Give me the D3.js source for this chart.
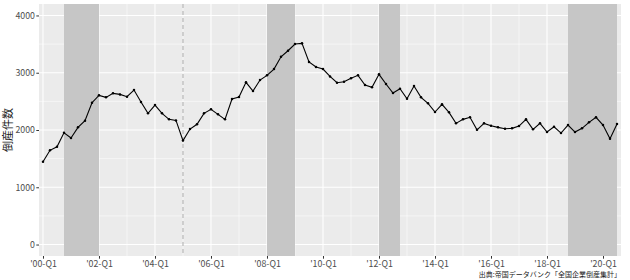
<!DOCTYPE html>
<html><head><meta charset="utf-8">
<script src="https://cdn.jsdelivr.net/npm/d3@7"></script>
<style>
html,body{margin:0;padding:0;background:#fff;}
svg{display:block;font-family:"Noto Sans CJK JP","Noto Sans",sans-serif;}
</style></head>
<body><svg id="c" width="630" height="280"></svg>
<script>
// quarterly bankruptcy counts, 2000-Q1 .. 2020-Q3
const startYear = 2000;
const counts = [
 1446,1645,1708,1952,1860,2046,2162,2476,2605,2570,2640,2622,2581,2698,2488,2291,
 2436,2291,2186,2168,1815,2017,2099,2291,2361,2273,2186,2541,2576,2832,2680,2872,
 2954,3064,3279,3384,3501,3513,3187,3099,3064,2935,2826,2843,2902,2954,2785,2745,
 2972,2803,2645,2721,2546,2768,2570,2465,2314,2448,2308,2116,2186,2221,2003,2116,
 2075,2046,2022,2029,2069,2186,2011,2116,1964,2057,1947,2087,1964,2029,2134,2221,
 2087,1848,2104
];
const xTickIdx = [0,8,16,24,32,40,48,56,64,72,80];
const xTickLabels = ["'00-Q1","'02-Q1","'04-Q1","'06-Q1","'08-Q1","'10-Q1","'12-Q1","'14-Q1","'16-Q1","'18-Q1","'20-Q1"];
const xMinorIdx = [4,12,20,28,36,44,52,60,68,76];
const yTicks = [0,1000,2000,3000,4000];
const yMinor = [500,1500,2500,3500];
const shadeStart = [3,32,48,75];
const shadeEnd = [8,36,51,82];
const markerIdx = [20];
const yTitle = "倒産件数";
const caption = "出典:帝国データバンク「全国企業倒産集計」";

const svg = d3.select("#c");
const L=39, R=621, T=4, B=256;
const x = d3.scaleLinear().domain([-0.57, counts.length-1+0.57]).range([L,R]);
const y = d3.scaleLinear().domain([-200,4200]).range([B,T]);

svg.append("rect").attr("x",L).attr("y",T).attr("width",R-L).attr("height",B-T).attr("fill","#ebebeb");
const g = svg.append("g");
g.selectAll(".ymin").data(yMinor).join("line").attr("x1",L).attr("x2",R)
 .attr("y1",d=>y(d)).attr("y2",d=>y(d)).attr("stroke","#fff").attr("stroke-width",0.55);
g.selectAll(".xmin").data(xMinorIdx).join("line").attr("y1",T).attr("y2",B)
 .attr("x1",d=>x(d)).attr("x2",d=>x(d)).attr("stroke","#fff").attr("stroke-width",0.55);
g.selectAll(".ymaj").data(yTicks).join("line").attr("x1",L).attr("x2",R)
 .attr("y1",d=>y(d)).attr("y2",d=>y(d)).attr("stroke","#fff").attr("stroke-width",1.07);
g.selectAll(".xmaj").data(xTickIdx).join("line").attr("y1",T).attr("y2",B)
 .attr("x1",d=>x(d)).attr("x2",d=>x(d)).attr("stroke","#fff").attr("stroke-width",1.07);

// shaded periods
g.selectAll(".shade").data(shadeStart).join("rect")
 .attr("x",(d,i)=>x(d)).attr("width",(d,i)=>x(shadeEnd[i])-x(d))
 .attr("y",T).attr("height",B-T).attr("fill","#c6c6c6");

// dashed marker
g.selectAll(".mk").data(markerIdx).join("line").attr("x1",d=>x(d)).attr("x2",d=>x(d))
 .attr("y1",T).attr("y2",B).attr("stroke","#ababab").attr("stroke-width",1).attr("stroke-dasharray","4,3");

// line + points
const line = d3.line().x((d,i)=>x(i)).y(d=>y(d));
g.append("path").datum(counts).attr("d",line).attr("fill","none").attr("stroke","#000").attr("stroke-width",1.1);
g.selectAll(".pt").data(counts).join("circle").attr("cx",(d,i)=>x(i)).attr("cy",d=>y(d)).attr("r",1.25).attr("fill","#000");

// axes
const xa = svg.append("g").attr("transform",`translate(0,${B})`)
 .call(d3.axisBottom(x).tickValues(xTickIdx).tickFormat((d,i)=>xTickLabels[i]).tickSize(2.7).tickSizeOuter(0));
const ya = svg.append("g").attr("transform",`translate(${L},0)`)
 .call(d3.axisLeft(y).tickValues(yTicks).tickFormat(d3.format("d")).tickSize(2.7).tickSizeOuter(0));
[xa,ya].forEach(a=>{
  a.select(".domain").remove();
  a.selectAll(".tick line").attr("stroke","#333").attr("stroke-width",1);
  a.selectAll(".tick text").attr("fill","#4d4d4d").attr("font-size","8.8px")
   .attr("font-family","'Noto Sans CJK JP','Noto Sans',sans-serif");
});
xa.selectAll(".tick text").attr("dy","0.9em").attr("y",3);
ya.selectAll(".tick text").attr("x",-4);

svg.append("text").attr("transform",`translate(12,${(T+B)/2}) rotate(-90)`)
 .attr("text-anchor","middle").attr("font-size","11px").attr("fill","#1a1a1a").text(yTitle);
svg.append("text").attr("x",R).attr("y",277).attr("text-anchor","end")
 .attr("font-size","7px").attr("fill","#222").text(caption);
</script></body></html>
